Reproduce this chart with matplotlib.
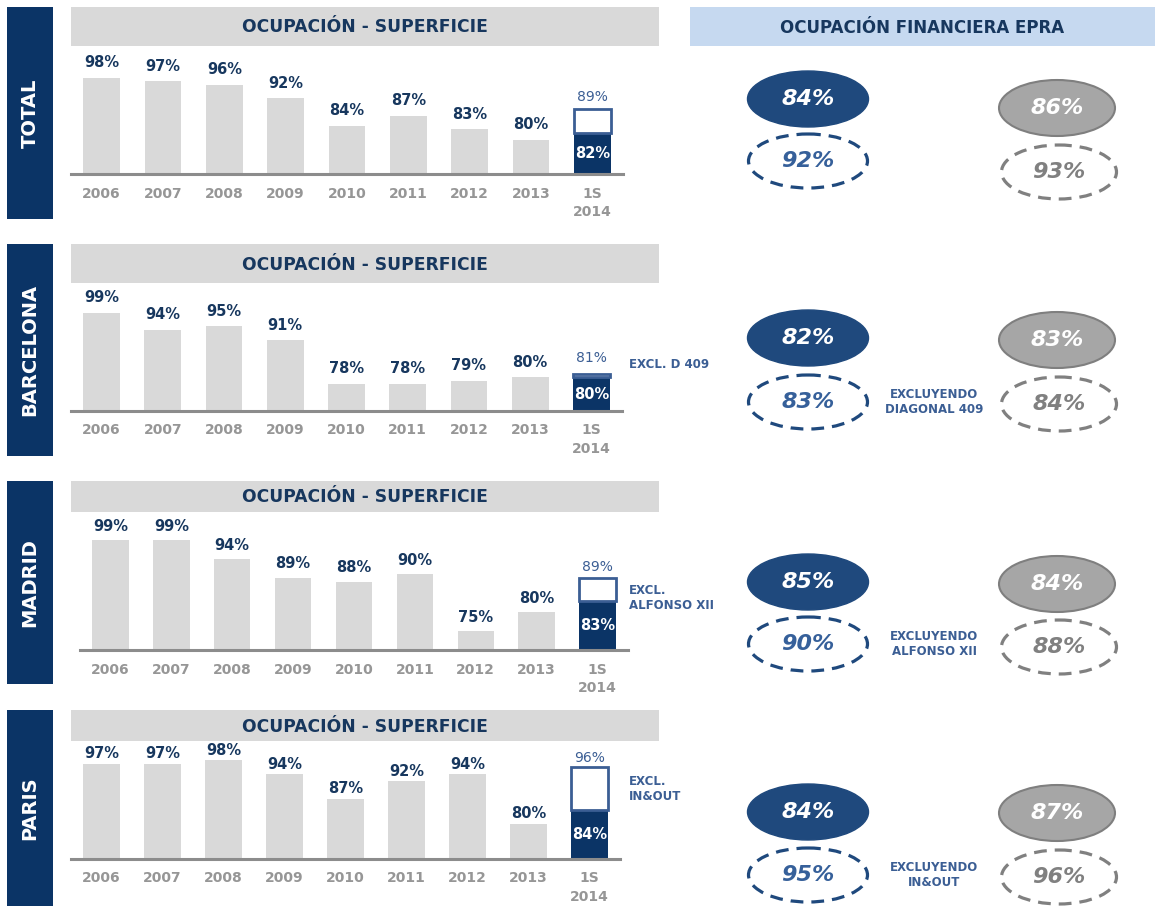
import matplotlib
matplotlib.use("Agg")
import matplotlib.pyplot as plt
from matplotlib.patches import Rectangle, Ellipse

W, H = 1155, 906

# --- data ---------------------------------------------------------------
regions = ["TOTAL", "BARCELONA", "MADRID", "PARIS"]
years = ["2006", "2007", "2008", "2009", "2010", "2011", "2012", "2013", "1S\n2014"]

total_vals = [98, 97, 96, 92, 84, 87, 83, 80, 82]
bcn_vals = [99, 94, 95, 91, 78, 78, 79, 80, 80]
mad_vals = [99, 99, 94, 89, 88, 90, 75, 80, 83]
par_vals = [97, 97, 98, 94, 87, 92, 94, 80, 84]
excl_vals = [89, 81, 89, 96]          # 1S 2014 excluding one asset
excl_notes = [None, "EXCL. D 409", "EXCL.\nALFONSO XII", "EXCL.\nIN&OUT"]

epra_company = [84, 82, 85, 84]
epra_company_excl = [92, 83, 90, 95]
epra_market = [86, 83, 84, 87]
epra_market_excl = [93, 84, 88, 96]
epra_notes = [None, "EXCLUYENDO\nDIAGONAL 409", "EXCLUYENDO\nALFONSO XII", "EXCLUYENDO\nIN&OUT"]

series = [total_vals, bcn_vals, mad_vals, par_vals]

# --- layout (pixels) ----------------------------------------------------
band_y = [(7, 219), (244, 456), (481, 684), (710, 906)]
header_y = [(7, 46), (244, 283), (481, 512), (710, 741)]
axes_box = [(71, 46, 623, 174), (71, 283, 622, 411), (80, 512, 628, 650), (71, 741, 620, 859)]
px_per_pct = [3.44, 3.38, 3.79, 3.53]
label_gap = [15, 15, 14, 10]
excl_gap = [12, 16, 11, 9]
note_y = [None, 365, 598, 789]

ell_navy_y = [99, 338, 582, 812]
ell_navy_dash_y = [161, 402, 644, 875]
ell_gray_y = [108, 340, 584, 813]
ell_gray_dash_y = [172, 404, 647, 877]

NAVY = "#0b3466"
TXT_NAVY = "#17375e"
MID_BLUE = "#3b5e94"
ELL_NAVY = "#1f497d"
BAR_GRAY = "#d9d9d9"
TICK_GRAY = "#969696"

fig = plt.figure(figsize=(W / 100, H / 100), dpi=100)
bg = fig.add_axes([0, 0, 1, 1], zorder=0)
bg.set_xlim(0, W)
bg.set_ylim(H, 0)
bg.axis("off")

# right header
bg.add_patch(Rectangle((690, 7), W - 690, 39, color="#c6d9f0", lw=0))
bg.text(922, 28, "OCUPACIÓN FINANCIERA EPRA", ha="center", va="center",
        fontsize=12, fontweight="bold", color=TXT_NAVY)

for i, name in enumerate(regions):
    y0, y1 = band_y[i]
    bg.add_patch(Rectangle((7, y0), 46, y1 - y0, color=NAVY, lw=0))
    bg.text(30, (y0 + y1) / 2, name, rotation=90, ha="center", va="center",
            fontsize=14, fontweight="bold", color="white")

    h0, h1 = header_y[i]
    bg.add_patch(Rectangle((71, h0), 588, h1 - h0, color=BAR_GRAY, lw=0))
    bg.text(365, (h0 + h1) / 2 + 1, "OCUPACIÓN - SUPERFICIE", ha="center", va="center",
            fontsize=12.3, fontweight="bold", color=TXT_NAVY)

    # bar panel
    x0, ytop, x1, ybase = axes_box[i]
    ax = fig.add_axes([x0 / W, 1 - ybase / H, (x1 - x0) / W, (ybase - ytop) / H], zorder=1)
    ax.patch.set_visible(False)
    vals = series[i]
    xs = list(range(len(vals)))
    colors = [BAR_GRAY] * (len(vals) - 1) + [NAVY]
    ax.bar(xs, vals, width=0.6, color=colors, lw=0)
    ax.bar(xs[-1], excl_vals[i] - vals[-1], bottom=vals[-1], width=0.6,
           facecolor="white", edgecolor=MID_BLUE, lw=2)
    ax.set_xlim(-0.5, len(vals) - 0.5)
    ax.set_ylim(70, 70 + (ybase - ytop) / px_per_pct[i])
    for x, v in zip(xs[:-1], vals[:-1]):
        ax.annotate(f"{v}%", (x, v), xytext=(0, label_gap[i] * 0.72), textcoords="offset points",
                    ha="center", va="center", fontsize=10.5, fontweight="bold", color=TXT_NAVY)
    ax.text(xs[-1], (70 + vals[-1]) / 2, f"{vals[-1]}%", ha="center", va="center",
            fontsize=10.5, fontweight="bold", color="white")
    ax.annotate(f"{excl_vals[i]}%", (xs[-1], excl_vals[i]), xytext=(0, excl_gap[i] * 0.72),
                textcoords="offset points", ha="center", va="center", fontsize=10, color=MID_BLUE)
    ax.set_xticks(xs)
    ax.set_xticklabels(years, fontsize=10, fontweight="bold", color=TICK_GRAY)
    for t in ax.get_xticklabels():
        t.set_linespacing(1.4)
    ax.tick_params(axis="x", length=0, pad=9)
    ax.set_yticks([])
    for s in ["top", "left", "right"]:
        ax.spines[s].set_visible(False)
    ax.spines["bottom"].set_color("#8c8c8c")
    ax.spines["bottom"].set_linewidth(2.2)

    if excl_notes[i]:
        bg.text(629, note_y[i], excl_notes[i], ha="left", va="center", fontsize=8.5,
                fontweight="bold", color=MID_BLUE, linespacing=1.25)

    # EPRA ellipses
    bg.add_patch(Ellipse((808, ell_navy_y[i]), 121, 56, facecolor=ELL_NAVY, edgecolor=ELL_NAVY, lw=1))
    bg.text(808, ell_navy_y[i], f"{epra_company[i]}%", ha="center", va="center", fontsize=16,
            fontweight="bold", style="italic", color="white")
    bg.add_patch(Ellipse((808, ell_navy_dash_y[i]), 119, 54, facecolor="none", edgecolor=ELL_NAVY,
                         lw=2.3, linestyle=(0, (4, 2.5))))
    bg.text(808, ell_navy_dash_y[i], f"{epra_company_excl[i]}%", ha="center", va="center", fontsize=16,
            fontweight="bold", style="italic", color="#36609a")
    bg.add_patch(Ellipse((1057, ell_gray_y[i]), 116, 56, facecolor="#a6a6a6", edgecolor="#7f7f7f", lw=1.5))
    bg.text(1057, ell_gray_y[i], f"{epra_market[i]}%", ha="center", va="center", fontsize=16,
            fontweight="bold", style="italic", color="white")
    bg.add_patch(Ellipse((1059, ell_gray_dash_y[i]), 115, 54, facecolor="none", edgecolor="#808080",
                         lw=2.3, linestyle=(0, (4, 2.5))))
    bg.text(1059, ell_gray_dash_y[i], f"{epra_market_excl[i]}%", ha="center", va="center", fontsize=16,
            fontweight="bold", style="italic", color="#808080")
    if epra_notes[i]:
        bg.text(934, ell_navy_dash_y[i], epra_notes[i], ha="center", va="center", fontsize=8.5,
                fontweight="bold", color=MID_BLUE, linespacing=1.25)

fig.savefig("out.png", dpi=100)
